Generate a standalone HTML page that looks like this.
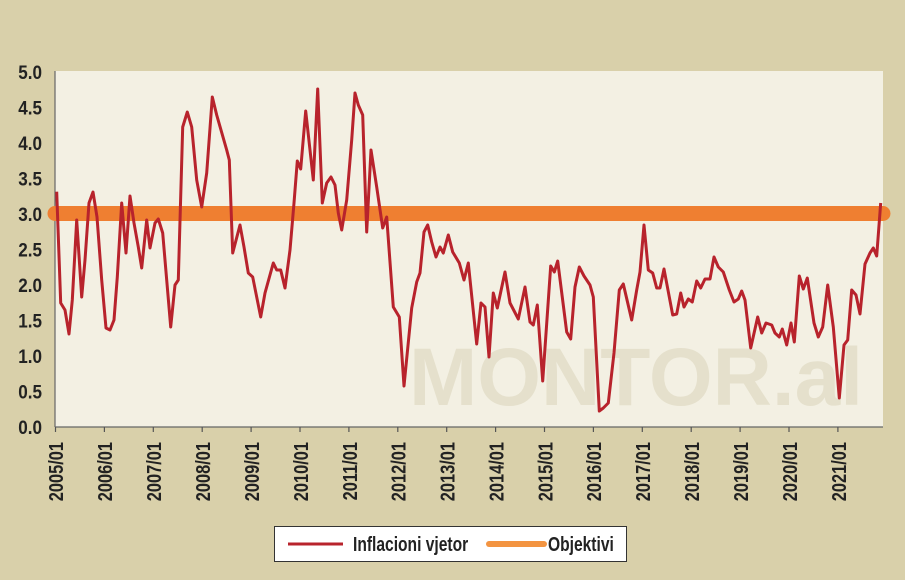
<!DOCTYPE html>
<html><head><meta charset="utf-8"><style>
body{margin:0;background:#d9d0aa;}
svg{display:block}
text{font-family:"Liberation Sans",sans-serif;}
</style></head><body>
<svg width="905" height="580" viewBox="0 0 905 580">
<rect width="905" height="580" fill="#d9d0aa"/>
<rect x="55" y="71" width="828" height="356" fill="#f3f0e3"/>
<text x="636" y="405" font-size="82" font-weight="bold" fill="#e5e0cc" text-anchor="middle">MONTOR.al</text>
<line x1="55" y1="71" x2="55" y2="427" stroke="#666" stroke-width="1.2"/>
<line x1="55" y1="427" x2="883" y2="427" stroke="#666" stroke-width="1.2"/>
<g stroke="#555" stroke-width="1.2">
<line x1="55.5" y1="427" x2="55.5" y2="432"/><line x1="104.4" y1="427" x2="104.4" y2="432"/><line x1="153.3" y1="427" x2="153.3" y2="432"/><line x1="202.2" y1="427" x2="202.2" y2="432"/><line x1="251.1" y1="427" x2="251.1" y2="432"/><line x1="300" y1="427" x2="300" y2="432"/><line x1="348.9" y1="427" x2="348.9" y2="432"/><line x1="397.8" y1="427" x2="397.8" y2="432"/><line x1="446.7" y1="427" x2="446.7" y2="432"/><line x1="495.6" y1="427" x2="495.6" y2="432"/><line x1="544.5" y1="427" x2="544.5" y2="432"/><line x1="593.4" y1="427" x2="593.4" y2="432"/><line x1="642.3" y1="427" x2="642.3" y2="432"/><line x1="691.2" y1="427" x2="691.2" y2="432"/><line x1="740.1" y1="427" x2="740.1" y2="432"/><line x1="789" y1="427" x2="789" y2="432"/><line x1="837.9" y1="427" x2="837.9" y2="432"/>
</g>
<g font-size="19" font-weight="bold" fill="#222" text-anchor="end">
<text x="42" y="434" transform="translate(42 0) scale(0.9 1) translate(-42 0)">0.0</text>
<text x="42" y="363" transform="translate(42 0) scale(0.9 1) translate(-42 0)">1.0</text>
<text x="42" y="398.5" transform="translate(42 0) scale(0.9 1) translate(-42 0)">0.5</text>
<text x="42" y="327.5" transform="translate(42 0) scale(0.9 1) translate(-42 0)">1.5</text>
<text x="42" y="292" transform="translate(42 0) scale(0.9 1) translate(-42 0)">2.0</text>
<text x="42" y="256.5" transform="translate(42 0) scale(0.9 1) translate(-42 0)">2.5</text>
<text x="42" y="221" transform="translate(42 0) scale(0.9 1) translate(-42 0)">3.0</text>
<text x="42" y="185.5" transform="translate(42 0) scale(0.9 1) translate(-42 0)">3.5</text>
<text x="42" y="150" transform="translate(42 0) scale(0.9 1) translate(-42 0)">4.0</text>
<text x="42" y="114.5" transform="translate(42 0) scale(0.9 1) translate(-42 0)">4.5</text>
<text x="42" y="79" transform="translate(42 0) scale(0.9 1) translate(-42 0)">5.0</text>
</g>
<g font-size="20" font-weight="bold" fill="#222" text-anchor="end">
<text transform="translate(63 442) rotate(-90) scale(0.82 1)">2005/01</text>
<text transform="translate(112 442) rotate(-90) scale(0.82 1)">2006/01</text>
<text transform="translate(161 442) rotate(-90) scale(0.82 1)">2007/01</text>
<text transform="translate(210 442) rotate(-90) scale(0.82 1)">2008/01</text>
<text transform="translate(259 442) rotate(-90) scale(0.82 1)">2009/01</text>
<text transform="translate(308 442) rotate(-90) scale(0.82 1)">2010/01</text>
<text transform="translate(357 442) rotate(-90) scale(0.82 1)">2011/01</text>
<text transform="translate(405.5 442) rotate(-90) scale(0.82 1)">2012/01</text>
<text transform="translate(454.5 442) rotate(-90) scale(0.82 1)">2013/01</text>
<text transform="translate(503.5 442) rotate(-90) scale(0.82 1)">2014/01</text>
<text transform="translate(552.5 442) rotate(-90) scale(0.82 1)">2015/01</text>
<text transform="translate(601 442) rotate(-90) scale(0.82 1)">2016/01</text>
<text transform="translate(650 442) rotate(-90) scale(0.82 1)">2017/01</text>
<text transform="translate(699 442) rotate(-90) scale(0.82 1)">2018/01</text>
<text transform="translate(748 442) rotate(-90) scale(0.82 1)">2019/01</text>
<text transform="translate(797 442) rotate(-90) scale(0.82 1)">2020/01</text>
<text transform="translate(846 442) rotate(-90) scale(0.82 1)">2021/01</text>
</g>
<line x1="55" y1="213.5" x2="883" y2="213.5" stroke="#ef7f31" stroke-width="15" stroke-linecap="round"/>
<polyline fill="none" stroke="#b8232c" stroke-width="3" stroke-linejoin="round" points="56.7,191.7 60.7,303 65,310 69,334 72.3,300 76.7,220 81.7,297 85,260 89,203 93,192 97,217 101.7,280 106,328 110,330 114,320 117.3,277 121.7,203 126,253 130,196 134,223 138.3,247 141.7,268 146.7,220 150,248 155,223 158.3,219 162.7,233 166.7,280 170.7,327 175,285 178.3,280 182.7,127 187.3,112 191.7,127 196.7,180 201.7,207 206.7,173 212.3,97 216.7,115 226.7,150 229.3,160 232.7,253 240,225 244,247 248.3,273 252.7,277 260.7,317 265,293 273.3,263 276.7,270 280.7,270 285,288 290,250 294,203 297.3,161 300.7,169 305.7,111 313.3,180 317.7,89 322.3,203 326.7,183 331,177 335,185 338.3,213 341.7,230 346.7,200 351.7,140 355,93 358.3,105 362.7,115 366.7,232 371,150 376.7,187 382.7,228 386.7,217 393.3,307 399.3,317 404,386 411.7,308 416.7,282 420,273 424,232 427.7,225 431.7,242 436,257 440,247 443.3,253 448.3,235 452.7,252 459.3,263 464,280 468.3,263 476.7,344 481,303 485,307 489,357 493.3,293 497.3,308 505,272 510,303 518.3,319 525,287 530,322 533.3,325 537.3,305 542.7,381 550.7,266 554.3,272 557.7,261 566.7,332 570.7,339 575,287 579.3,267 584,276 590,285 593.3,297 599.3,411 603.3,408 608.3,403 614,353 619.3,290 623.3,284 631.7,320 636.7,290 640,272 644,225 648.3,270 652.7,273 656.7,288 660,288 664,269 672.7,315 676.7,314 680.7,293 684,307 688.3,299 692.3,302 696.7,281 700.7,288 705,279 710,279 714,257 718.3,267 723.3,272 729.3,290 734,302 738.3,299 741.7,291 745,300 750.7,348 757.7,317 761.7,333 766,323 771.7,325 775,333 779.3,337 782.3,329 786.7,345 791,323 794.3,342 799.3,276 803.3,289 807.3,278 814,323 818.3,337 822.7,327 827.7,285 833.3,327 839.3,398 844,345 847.7,340 851.7,290 856,295 860,314 865,264 870,253 873.3,248 876.7,256 880.7,203"/>
<rect x="274.5" y="526.5" width="352" height="35" fill="#fff" stroke="#333" stroke-width="1"/>
<line x1="288" y1="544" x2="343" y2="544" stroke="#b8232c" stroke-width="3"/>
<line x1="489" y1="544" x2="544" y2="544" stroke="#f39441" stroke-width="6" stroke-linecap="round"/>
<g font-size="20" font-weight="bold" fill="#222">
<text x="353" y="551" transform="translate(353 0) scale(0.78 1) translate(-353 0)">Inflacioni vjetor</text>
<text x="548" y="551" transform="translate(548 0) scale(0.78 1) translate(-548 0)">Objektivi</text>
</g>
</svg>
</body></html>
